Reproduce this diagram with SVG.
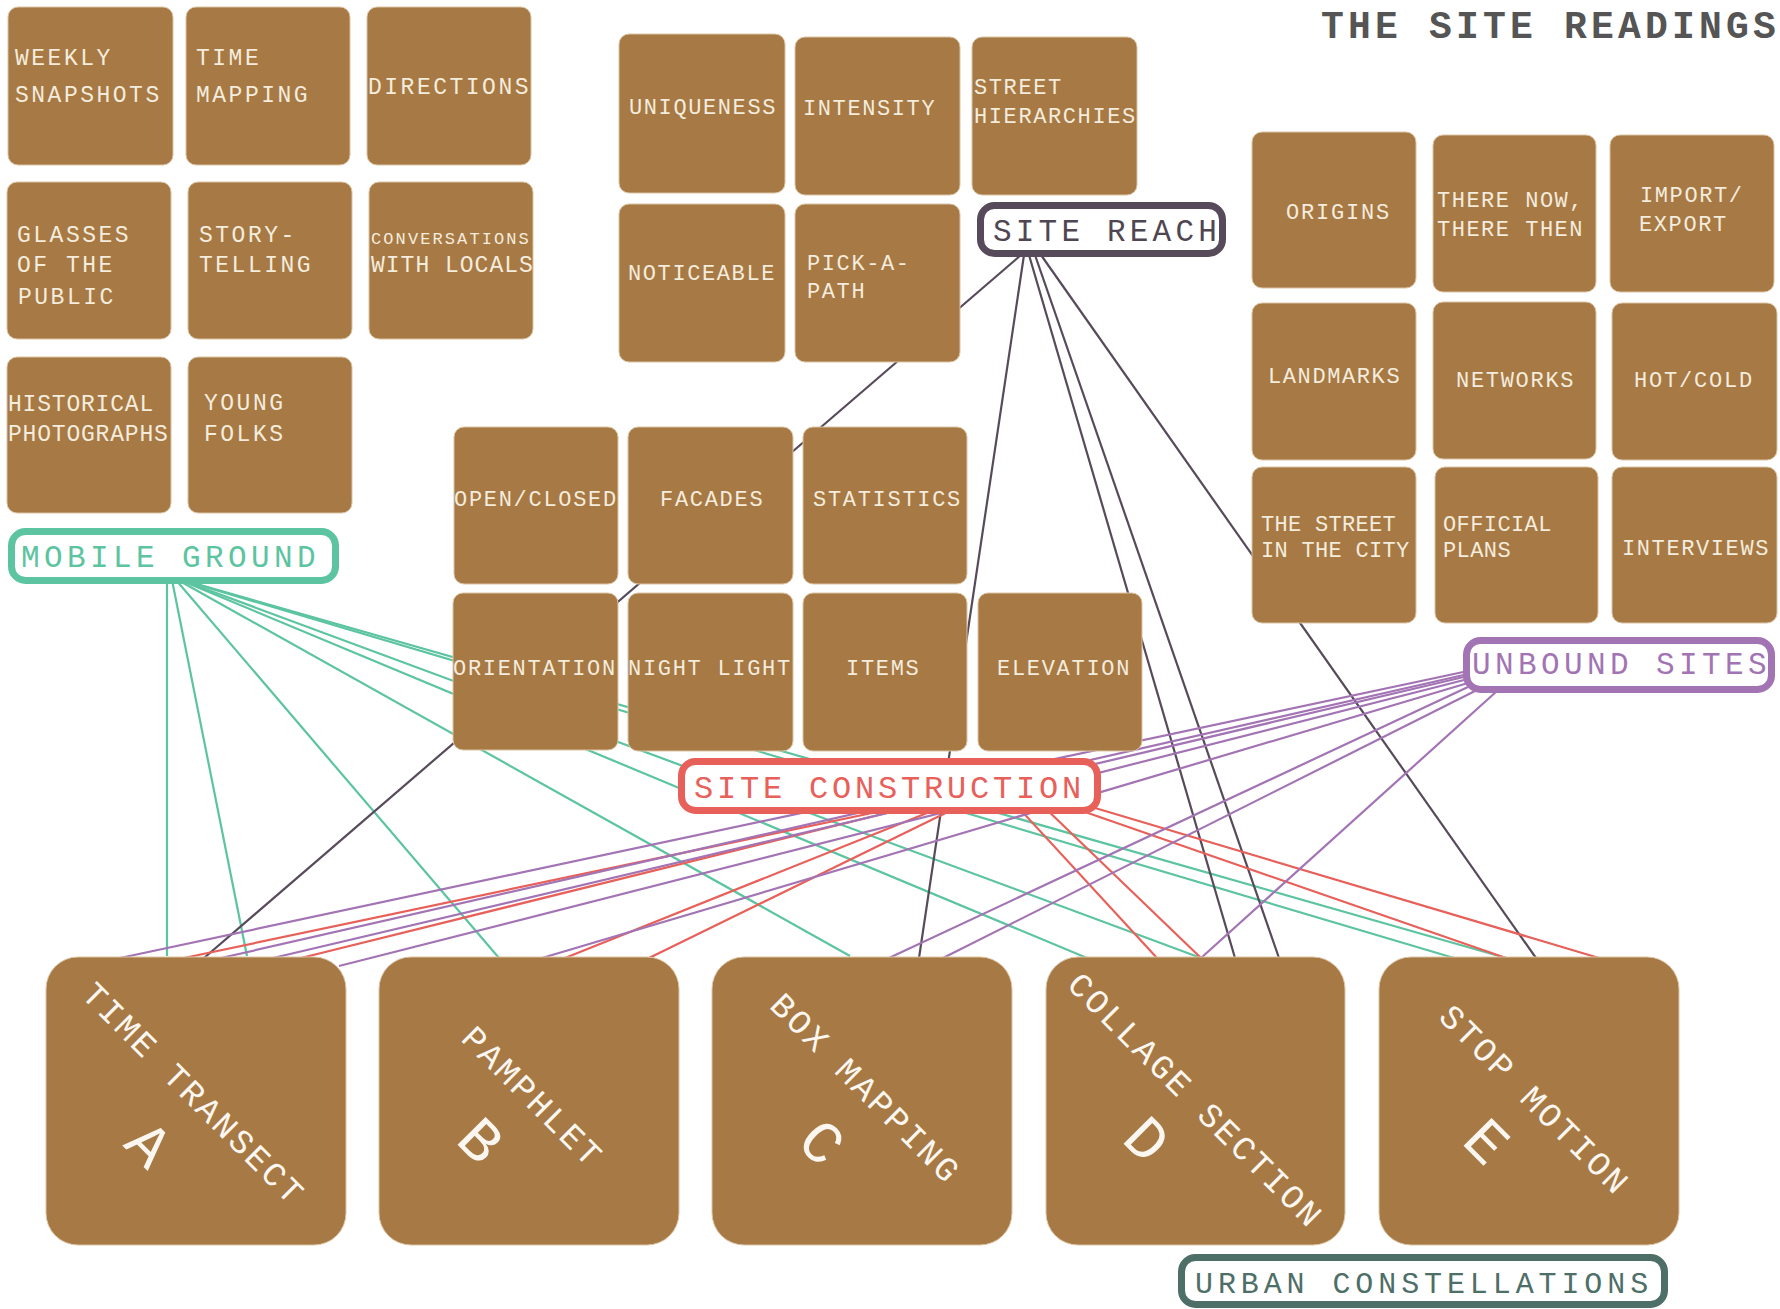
<svg xmlns="http://www.w3.org/2000/svg" width="1780" height="1309" viewBox="0 0 1780 1309">
<style>
.bg{fill:#ffffff}
.box{fill:#a77944;stroke:#dcc5a6;stroke-width:1}
.big{fill:#a77944;stroke:#dcc5a6;stroke-width:1}
.lbl{font-family:"Liberation Mono","DejaVu Sans Mono",monospace;font-size:22px;fill:#f4ecdd}
.tl{font-size:23px;letter-spacing:2.5px}
.mt{letter-spacing:1.6px}
.md{letter-spacing:1.7px}
.rot{font-family:"Liberation Mono","DejaVu Sans Mono",monospace;font-size:34px;letter-spacing:2.6px;fill:#fbf7f0;text-anchor:middle}
.let{font-family:"Liberation Mono","DejaVu Sans Mono",monospace;font-size:60px;fill:#fbf7f0;text-anchor:middle}
.hub{fill:#ffffff;stroke-width:7}
.hubt{font-family:"Liberation Mono","DejaVu Sans Mono",monospace;font-size:31px;letter-spacing:4.4px}
.c{fill:none;stroke-width:2.2}
.teal{stroke:#5cc4a0}
.dark{stroke:#574a5a}
.red{stroke:#e8605a}
.pur{stroke:#a374b4}
</style>
<rect class="bg" x="0" y="0" width="1780" height="1309"/>

<g id="connectors">
  <path class="c teal" d="M167 580 L167 956"/>
  <path class="c teal" d="M172 580 L247 956"/>
  <path class="c teal" d="M176 580 L499 958"/>
  <path class="c teal" d="M178 580 L850 956"/>
  <path class="c teal" d="M180 580 L1087 958"/>
  <path class="c teal" d="M181 580 L1201 958"/>
  <path class="c teal" d="M182 580 L1454 958"/>
  <path class="c teal" d="M183 580 L1506 958"/>

  <path class="c dark" d="M1021 255 L204 958"/>
  <path class="c dark" d="M1024 255 L919 958"/>
  <path class="c dark" d="M1029 255 L1235 958"/>
  <path class="c dark" d="M1035 255 L1279 958"/>
  <path class="c dark" d="M1041 255 L1536 958"/>

  <path class="c red" d="M910 805 L184 958"/>
  <path class="c red" d="M919 805 L301 958"/>
  <path class="c red" d="M947 805 L565 958"/>
  <path class="c red" d="M962 805 L649 958"/>
  <path class="c red" d="M1016 805 L1157 958"/>
  <path class="c red" d="M1042 805 L1201 958"/>
  <path class="c red" d="M1065 805 L1506 958"/>
  <path class="c red" d="M1085 805 L1599 958"/>

  <path class="c pur" d="M1468 671 L120 958"/>
  <path class="c pur" d="M1468 674 L221 958"/>
  <path class="c pur" d="M1468 676 L273 958"/>
  <path class="c pur" d="M1468 679 L339 966"/>
  <path class="c pur" d="M1468 683 L542 958"/>
  <path class="c pur" d="M1468 687 L889 958"/>
  <path class="c pur" d="M1475 691 L943 958"/>
  <path class="c pur" d="M1497 691 L1201 958"/>
</g>

<text x="1321" y="38" style="font-family:'Liberation Mono','DejaVu Sans Mono',monospace;font-size:38px;font-weight:bold;letter-spacing:4.2px;fill:#555555">THE SITE READINGS</text>

<!-- top-left grid -->
<g id="n-weekly"><rect class="box" x="8" y="7" width="165" height="158" rx="10"/>
<text class="lbl tl" x="15" y="65">WEEKLY</text><text class="lbl tl" x="15" y="102">SNAPSHOTS</text></g>
<g id="n-timemapping"><rect class="box" x="186" y="7" width="164" height="158" rx="10"/>
<text class="lbl tl" x="196" y="65">TIME</text><text class="lbl tl" x="196" y="102">MAPPING</text></g>
<g id="n-directions"><rect class="box" x="367" y="7" width="164" height="158" rx="10"/>
<text class="lbl tl" x="368" y="94">DIRECTIONS</text></g>
<g id="n-glasses"><rect class="box" x="7" y="182" width="164" height="157" rx="10"/>
<text class="lbl tl" x="17" y="242">GLASSES</text><text class="lbl tl" x="17" y="272">OF THE</text><text class="lbl tl" x="18" y="304">PUBLIC</text></g>
<g id="n-story"><rect class="box" x="188" y="182" width="164" height="157" rx="10"/>
<text class="lbl tl" x="199" y="242">STORY-</text><text class="lbl tl" x="199" y="272">TELLING</text></g>
<g id="n-conversations"><rect class="box" x="369" y="182" width="164" height="157" rx="10"/>
<text class="lbl" x="371" y="244" style="font-size:17px;letter-spacing:2.1px">CONVERSATIONS</text><text class="lbl" x="371" y="272" style="font-size:23px;letter-spacing:1.0px">WITH LOCALS</text></g>
<g id="n-historical"><rect class="box" x="7" y="357" width="164" height="156" rx="10"/>
<text class="lbl" x="8" y="411" style="font-size:23px;letter-spacing:0.8px">HISTORICAL</text><text class="lbl" x="8" y="441" style="font-size:23px;letter-spacing:0.8px">PHOTOGRAPHS</text></g>
<g id="n-young"><rect class="box" x="188" y="357" width="164" height="156" rx="10"/>
<text class="lbl tl" x="204" y="410">YOUNG</text><text class="lbl tl" x="204" y="441">FOLKS</text></g>

<g id="h-mobile"><rect class="hub" x="11.5" y="531.5" width="324" height="49" rx="14" stroke="#5cc4a0"/>
<text class="hubt" x="21" y="567" fill="#5cc4a0">MOBILE GROUND</text></g>

<!-- middle-top grid -->
<g id="n-uniqueness"><rect class="box" x="619" y="34" width="166" height="159" rx="10"/>
<text class="lbl mt" x="629" y="114">UNIQUENESS</text></g>
<g id="n-intensity"><rect class="box" x="795" y="37" width="165" height="158" rx="10"/>
<text class="lbl mt" x="803" y="115">INTENSITY</text></g>
<g id="n-street"><rect class="box" x="972" y="37" width="165" height="158" rx="10"/>
<text class="lbl mt" x="974" y="94">STREET</text><text class="lbl mt" x="974" y="123">HIERARCHIES</text></g>
<g id="n-noticeable"><rect class="box" x="619" y="204" width="166" height="158" rx="10"/>
<text class="lbl mt" x="628" y="280">NOTICEABLE</text></g>
<g id="n-pick"><rect class="box" x="795" y="204" width="165" height="158" rx="10"/>
<text class="lbl mt" x="807" y="270">PICK-A-</text><text class="lbl mt" x="807" y="298">PATH</text></g>

<g id="h-reach"><rect class="hub" x="980.5" y="205.5" width="242" height="48" rx="14" stroke="#574a5a"/>
<text class="hubt" x="993" y="241" style="fill:#4f4652;letter-spacing:4.2px">SITE REACH</text></g>

<!-- middle grid -->
<g id="n-openclosed"><rect class="box" x="454" y="427" width="164" height="157" rx="10"/>
<text class="lbl md" x="454" y="506">OPEN/CLOSED</text></g>
<g id="n-facades"><rect class="box" x="628" y="427" width="165" height="157" rx="10"/>
<text class="lbl md" x="660" y="506">FACADES</text></g>
<g id="n-statistics"><rect class="box" x="803" y="427" width="164" height="157" rx="10"/>
<text class="lbl md" x="813" y="506">STATISTICS</text></g>
<g id="n-orientation"><rect class="box" x="453" y="593" width="165" height="157" rx="10"/>
<text class="lbl md" x="453" y="675">ORIENTATION</text></g>
<g id="n-nightlight"><rect class="box" x="628" y="593" width="165" height="158" rx="10"/>
<text class="lbl md" x="628" y="675">NIGHT LIGHT</text></g>
<g id="n-items"><rect class="box" x="803" y="593" width="164" height="158" rx="10"/>
<text class="lbl md" x="846" y="675">ITEMS</text></g>
<g id="n-elevation"><rect class="box" x="978" y="593" width="164" height="158" rx="10"/>
<text class="lbl md" x="997" y="675">ELEVATION</text></g>

<g id="h-construction"><rect class="hub" x="681.5" y="761.5" width="416" height="49" rx="14" stroke="#e8605a"/>
<text class="hubt" x="694" y="798" style="fill:#e8605a;font-size:32px;letter-spacing:3.8px">SITE CONSTRUCTION</text></g>

<!-- right grid -->
<g id="n-origins"><rect class="box" x="1252" y="132" width="164" height="156" rx="10"/>
<text class="lbl" x="1286" y="219" style="letter-spacing:1.8px">ORIGINS</text></g>
<g id="n-therenow"><rect class="box" x="1433" y="135" width="163" height="157" rx="10"/>
<text class="lbl" x="1437" y="207" style="letter-spacing:1.5px">THERE NOW,</text><text class="lbl" x="1437" y="236" style="letter-spacing:1.5px">THERE THEN</text></g>
<g id="n-import"><rect class="box" x="1610" y="135" width="164" height="157" rx="10"/>
<text class="lbl" x="1640" y="202" style="letter-spacing:1.6px">IMPORT/</text><text class="lbl" x="1639" y="231" style="letter-spacing:1.6px">EXPORT</text></g>
<g id="n-landmarks"><rect class="box" x="1252" y="303" width="164" height="157" rx="10"/>
<text class="lbl" x="1268" y="383" style="letter-spacing:1.6px">LANDMARKS</text></g>
<g id="n-networks"><rect class="box" x="1433" y="302" width="163" height="157" rx="10"/>
<text class="lbl" x="1456" y="387" style="letter-spacing:1.7px">NETWORKS</text></g>
<g id="n-hotcold"><rect class="box" x="1612" y="303" width="165" height="157" rx="10"/>
<text class="lbl" x="1634" y="387" style="letter-spacing:1.8px">HOT/COLD</text></g>
<g id="n-thestreet"><rect class="box" x="1252" y="467" width="164" height="156" rx="10"/>
<text class="lbl" x="1261" y="531" style="letter-spacing:0.3px">THE STREET</text><text class="lbl" x="1261" y="557" style="letter-spacing:0.3px">IN THE CITY</text></g>
<g id="n-official"><rect class="box" x="1435" y="467" width="163" height="156" rx="10"/>
<text class="lbl" x="1443" y="531" style="letter-spacing:0.4px">OFFICIAL</text><text class="lbl" x="1443" y="557" style="letter-spacing:0.4px">PLANS</text></g>
<g id="n-interviews"><rect class="box" x="1612" y="467" width="165" height="156" rx="10"/>
<text class="lbl" x="1622" y="555" style="letter-spacing:1.6px">INTERVIEWS</text></g>

<g id="h-unbound"><rect class="hub" x="1466.5" y="640.5" width="305" height="49" rx="14" stroke="#a374b4"/>
<text class="hubt" x="1472" y="674" fill="#a374b4">UNBOUND SITES</text></g>

<!-- bottom nodes -->
<g id="n-a"><rect class="big" x="46" y="957" width="300" height="288" rx="32"/>
<text class="rot" transform="translate(193.5 1094) rotate(45)" dy="11">TIME TRANSECT</text>
<text class="let" transform="translate(149 1144) rotate(45)" dy="20">A</text></g>
<g id="n-b"><rect class="big" x="379" y="957" width="300" height="288" rx="32"/>
<text class="rot" transform="translate(532.5 1097) rotate(45)" dy="11">PAMPHLET</text>
<text class="let" transform="translate(481 1140) rotate(45)" dy="20">B</text></g>
<g id="n-c"><rect class="big" x="712" y="957" width="300" height="288" rx="32"/>
<text class="rot" transform="translate(865.5 1088.5) rotate(45)" dy="11">BOX MAPPING</text>
<text class="let" transform="translate(822 1142) rotate(45)" dy="20">C</text></g>
<g id="n-d"><rect class="big" x="1046" y="957" width="299" height="288" rx="32"/>
<text class="rot" transform="translate(1195.5 1100.5) rotate(45)" dy="11">COLLAGE SECTION</text>
<text class="let" transform="translate(1147 1139) rotate(45)" dy="20">D</text></g>
<g id="n-e"><rect class="big" x="1379" y="957" width="300" height="288" rx="32"/>
<text class="rot" transform="translate(1534.5 1100) rotate(45)" dy="11">STOP MOTION</text>
<text class="let" transform="translate(1487 1141) rotate(45)" dy="20">E</text></g>

<g id="h-urban"><rect class="hub" x="1181.5" y="1257.5" width="483" height="47" rx="14" stroke="#4e6e68"/>
<text class="hubt" x="1195" y="1293" style="fill:#4e6e68;font-size:30px;letter-spacing:4.9px">URBAN CONSTELLATIONS</text></g>
</svg>
